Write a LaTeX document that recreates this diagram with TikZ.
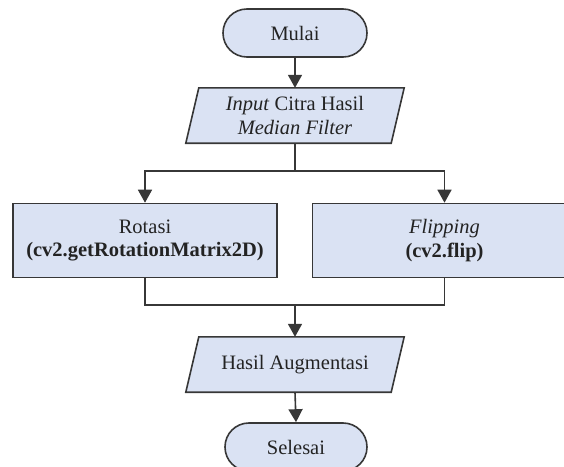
\documentclass[tikz,border=0pt]{standalone}
\usepackage{fontspec}
\setmainfont{Liberation Serif}
\usetikzlibrary{arrows.meta}
\pgfdeclarelayer{background}
\pgfsetlayers{background,main}
\definecolor{boxfill}{RGB}{218,226,243}
\definecolor{linegray}{RGB}{55,55,55}
\definecolor{textgray}{RGB}{35,35,35}
\tikzset{
  base/.style={inner sep=0pt, align=center, text=textgray, font=\fontsize{20.5}{23.5}\selectfont},
  term/.style={base, draw=linegray, fill=boxfill, line width=1.6pt, rounded corners=23.9pt, minimum width=144pt, minimum height=48pt},
  procbox/.style={base, draw=linegray, fill=boxfill, line width=1.6pt, minimum width=264pt, minimum height=74pt},
  iobox/.style={base, minimum width=218pt, minimum height=55pt},
  conn/.style={draw=linegray, line width=1.6pt},
  arr/.style={conn, -{Triangle[width=14pt,length=13pt]}},
}
\newcommand{\paraframe}[1]{%
  \begin{pgfonlayer}{background}
    \draw[draw=linegray, fill=boxfill, line width=1.6pt, line join=miter]
      ([xshift=13pt]#1.north west) -- (#1.north east) -- ([xshift=-13pt]#1.south east) -- (#1.south west) -- cycle;
  \end{pgfonlayer}}
\begin{document}
\begin{tikzpicture}[x=1pt,y=-1pt]
\useasboundingbox (0,0) rectangle (564,466);
\node[term] (mulai) at (295,33) {Mulai};
\node[iobox] (inp) at (295,115.5) {\textit{Input} Citra Hasil\\\textit{Median Filter}};
\paraframe{inp}
\node[procbox] (rot) at (145,240.5) {Rotasi\\\textbf{(cv2.getRotationMatrix2D)}};
\node[procbox] (flip) at (444.5,240.5) {\textit{Flipping}\\\textbf{(cv2.flip)}};
\node[iobox] (hasil) at (295,364.5) {Hasil Augmentasi};
\paraframe{hasil}
\node[term, minimum width=142pt] (sel) at (296,447) {Selesai};
\coordinate (split) at (295,171);
\coordinate (merge) at (295,305);
\draw[arr] (mulai.south) -- (inp.north);
\draw[conn] (inp.south) -- (split);
\draw[arr] (split) -| (rot.north);
\draw[arr] (split) -| (flip.north);
\draw[conn] (rot.south) |- (merge) -| (flip.south);
\draw[arr] (merge) -- (hasil.north);
\draw[arr] (hasil.south) -- (sel.north);
\end{tikzpicture}
\end{document}
